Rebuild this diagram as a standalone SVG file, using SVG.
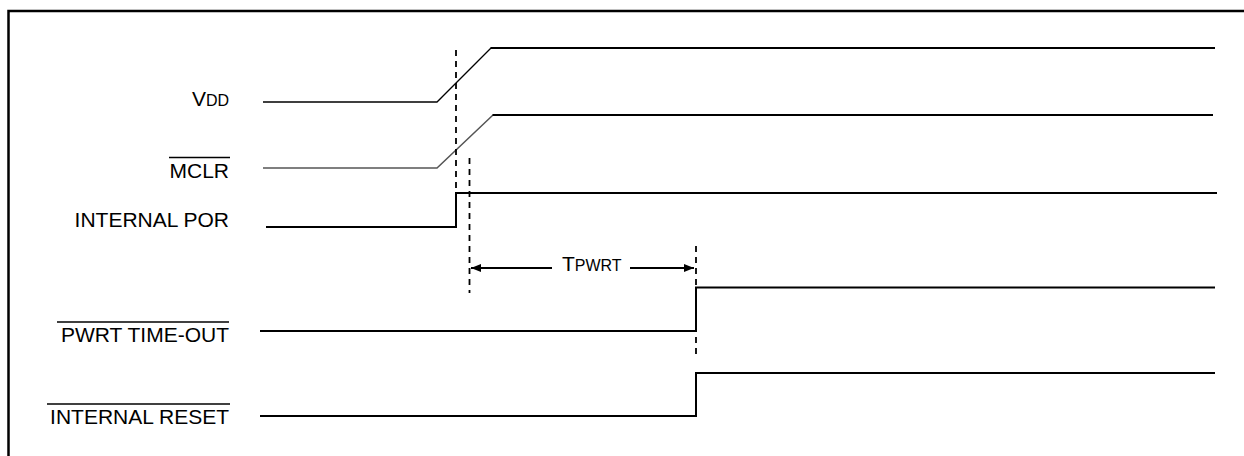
<svg xmlns="http://www.w3.org/2000/svg" width="1244" height="456" viewBox="0 0 1244 456">
  <defs>
    <style>
      .lbl { font-family: "Liberation Sans", Arial, Helvetica, sans-serif; font-size: 21px; fill: #000; }
      .sub { font-size: 16px; }
      .wave { fill: none; stroke: #000; stroke-width: 2; stroke-linejoin: miter; }
      .thin { fill: none; stroke: #000; stroke-width: 1.3; }
      .gray { fill: none; stroke: #555; stroke-width: 1.5; }
      .bar { stroke: #000; stroke-width: 1.6; }
      .dash { fill: none; stroke: #000; stroke-width: 1.8; stroke-dasharray: 6 5; }
      .arrow { fill: none; stroke: #000; stroke-width: 2; }
    </style>
    <marker id="ah" viewBox="0 0 10 8" refX="10" refY="4" markerWidth="10" markerHeight="8" markerUnits="userSpaceOnUse" orient="auto-start-reverse">
      <path d="M0,0 L10,4 L0,8 Z" fill="#000"/>
    </marker>
  </defs>

  <rect width="1244" height="456" fill="#fff"/>

  <!-- frame -->
  <path id="frame" d="M8.5,456 V11 H1244" fill="none" stroke="#000" stroke-width="2.5"/>

  <g id="vdd">
    <text class="lbl" x="229" y="106" text-anchor="end">V<tspan class="sub">DD</tspan></text>
    <path class="thin" d="M263,102 H437 L491,48"/>
    <path class="wave" d="M490.5,48 H1215"/>
  </g>

  <g id="mclr">
    <text class="lbl" x="229" y="178" text-anchor="end">MCLR</text>
    <line class="bar" x1="169" y1="157.5" x2="230" y2="157.5"/>
    <path class="gray" d="M263,168 H437 L493,115"/>
    <path class="wave" d="M492.5,115 H1213"/>
  </g>

  <g id="internal-por">
    <text class="lbl" x="229" y="227" text-anchor="end">INTERNAL POR</text>
    <path class="wave" d="M266,227 H456 V193 H1217"/>
  </g>

  <g id="pwrt-timeout">
    <text class="lbl" x="229" y="342" text-anchor="end">PWRT TIME-OUT</text>
    <line class="bar" x1="57" y1="322" x2="229" y2="322"/>
    <path class="wave" d="M260,331 H696 V287.5 H1215"/>
  </g>

  <g id="internal-reset">
    <text class="lbl" x="229" y="424" text-anchor="end">INTERNAL RESET</text>
    <line class="bar" x1="47" y1="404" x2="230" y2="404"/>
    <path class="wave" d="M260,416 H696 V373 H1215"/>
  </g>

  <g id="connectors">
    <line class="dash" x1="456" y1="50" x2="456" y2="191"/>
    <line class="dash" x1="469.5" y1="158" x2="469.5" y2="293"/>
    <line class="dash" x1="696" y1="246" x2="696" y2="286"/>
    <line class="dash" x1="696" y1="337" x2="696" y2="356"/>
    <line class="arrow" x1="552" y1="268" x2="471" y2="268" marker-end="url(#ah)"/>
    <line class="arrow" x1="630" y1="268" x2="694" y2="268" marker-end="url(#ah)"/>
    <text class="lbl" x="562" y="271">T<tspan class="sub">PWRT</tspan></text>
  </g>
</svg>
